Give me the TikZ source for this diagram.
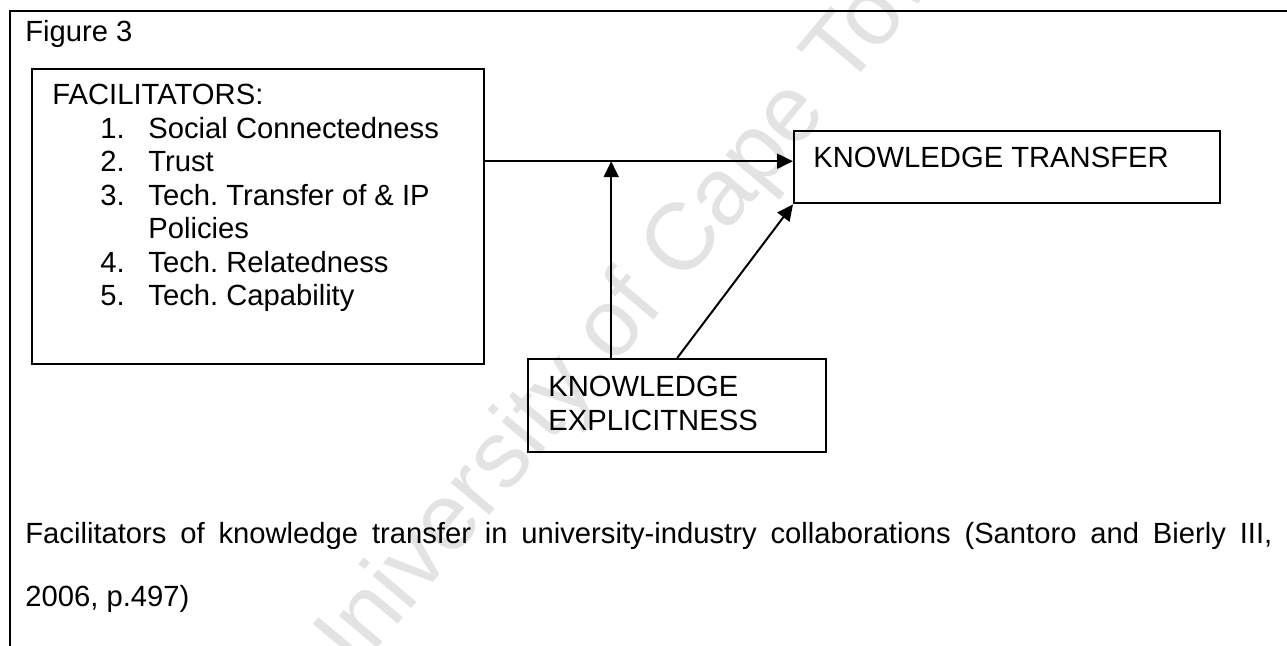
\documentclass[tikz,border=0pt]{standalone}
\usepackage{fontspec}
\setmainfont{Liberation Sans}
\frenchspacing
\usetikzlibrary{calc, positioning, arrows.meta}

\begin{document}
\begin{tikzpicture}[x=0.5pt, y=-0.5pt,
    box/.style={draw, line width=1.2pt, anchor=north west, inner sep=0pt},
    txt/.style={anchor=north west, inner sep=0pt, align=left,
      font=\fontsize{14.6}{16.75}\selectfont},
    link/.style={line width=1pt, -{Triangle[length=8pt, width=7.5pt]}}]
      \useasboundingbox (0,0) rectangle (1287,646);

      % watermark
      \node[rotate=50, text=black!11, font=\fontsize{47.5}{47.5}\selectfont]
        (wm) at (640,298) {University of Cape Town};

      % frame, open to the right and below
      \draw[line width=1.2pt] (10,646) -- (10,11) -- (1287,11);
      \node[txt, anchor=base west] (fig) at (25,42) {Figure 3};

      \node[box, minimum width=226pt, minimum height=147.5pt] (fac) at (31,68) {};
      \node[txt] (factxt) at (52,84) {FACILITATORS:\\
        \hspace*{24pt}\makebox[24pt][l]{1.}Social Connectedness\\
        \hspace*{24pt}\makebox[24pt][l]{2.}Trust\\
        \hspace*{24pt}\makebox[24pt][l]{3.}Tech. Transfer of \& IP\\
        \hspace*{48pt}Policies\\
        \hspace*{24pt}\makebox[24pt][l]{4.}Tech. Relatedness\\
        \hspace*{24pt}\makebox[24pt][l]{5.}Tech. Capability};

      \node[box, minimum width=213pt, minimum height=36pt] (kt) at (793,130) {};
      \node[txt, anchor=base west] (kttxt) at (813,168) {KNOWLEDGE TRANSFER};

      \node[box, minimum width=149pt, minimum height=46.5pt] (ke) at (527,358) {};
      \node[txt] (ketxt) at (548,376) {KNOWLEDGE\\EXPLICITNESS};

      \coordinate (kin) at ([yshift=3pt]kt.west);
      \coordinate (keup) at ([xshift=-33pt]ke.north);

      \draw[link] (fac.east |- kin) -- (kin);
      \draw[link] (keup) -- (keup |- kin);
      \draw[link] (ke.north) -- (kt.south west);

      \node[anchor=north west, inner sep=0pt, text width=623.5pt, align=justify,
        font=\fontsize{14.6}{31.5}\selectfont] (cap) at (25,522)
        {Facilitators of knowledge transfer in university-industry
         collaborations (Santoro and Bierly III,\linebreak 2006, p.497)};
    \end{tikzpicture}
\end{document}
